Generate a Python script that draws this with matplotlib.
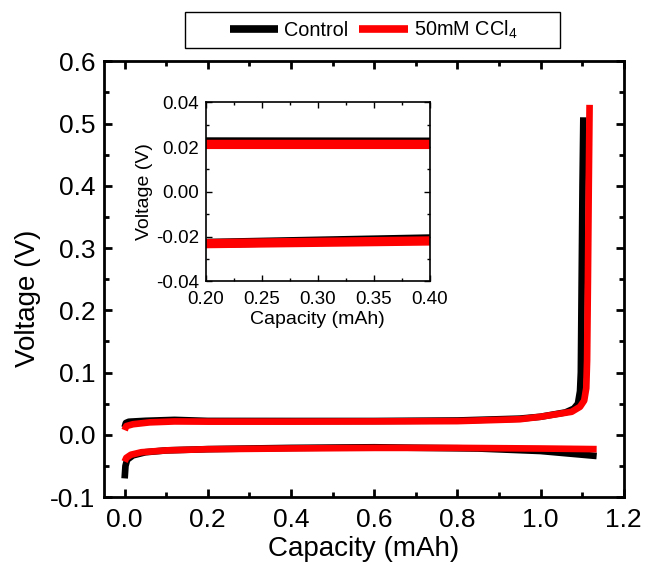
import numpy as np
import matplotlib
matplotlib.use("Agg")
import matplotlib.pyplot as plt
from matplotlib.patches import Rectangle
from matplotlib.ticker import MultipleLocator

plt.rcParams['font.family'] = ['Liberation Sans', 'DejaVu Sans']
plt.rcParams['mathtext.default'] = 'regular'

# charge branch (upper curve)
ctrl_chg_x = [0.0, 0.003, 0.01, 0.05, 0.12, 0.2, 0.4, 0.6, 0.8, 0.95, 1.0, 1.06,
              1.08, 1.09, 1.095, 1.097, 1.099, 1.101, 1.103]
ctrl_chg_y = [0.012, 0.019, 0.021, 0.0225, 0.024, 0.0223, 0.0222, 0.0222, 0.023, 0.026,
              0.029, 0.036, 0.042, 0.05, 0.07, 0.10, 0.25, 0.40, 0.51]
ccl4_chg_x = [0.0, 0.004, 0.02, 0.06, 0.12, 0.2, 0.4, 0.6, 0.8, 0.95, 1.0, 1.075,
              1.095, 1.105, 1.110, 1.112, 1.114, 1.116, 1.118]
ccl4_chg_y = [0.0075, 0.014, 0.017, 0.020, 0.0215, 0.0212, 0.0212, 0.0215, 0.022, 0.025,
              0.029, 0.037, 0.045, 0.055, 0.075, 0.12, 0.25, 0.40, 0.53]

# discharge branch (lower curve)
ctrl_dis_x = [0.0, 0.002, 0.006, 0.02, 0.05, 0.1, 0.2, 0.4, 0.6, 0.85, 1.0, 1.135]
ctrl_dis_y = [-0.070, -0.050, -0.040, -0.033, -0.028, -0.025, -0.023, -0.021, -0.020,
              -0.022, -0.026, -0.034]
ccl4_dis_x = [0.0, 0.004, 0.015, 0.04, 0.1, 0.2, 0.4, 0.6, 0.8, 1.0, 1.135]
ccl4_dis_y = [-0.043, -0.037, -0.032, -0.028, -0.025, -0.0231, -0.0219, -0.021, -0.021,
              -0.022, -0.023]

series = [
    ("Control", "black", ctrl_chg_x, ctrl_chg_y, ctrl_dis_x, ctrl_dis_y),
    ("50mM CCl$_4$", "red", ccl4_chg_x, ccl4_chg_y, ccl4_dis_x, ccl4_dis_y),
]

fig = plt.figure(figsize=(6.49, 5.78), dpi=100)
ax = fig.add_axes([0.160, 0.140, 0.801, 0.754])
inset = fig.add_axes([0.317, 0.513, 0.345, 0.310])

handles = []
for label, color, cx, cy, dx, dy in series:
    h, = ax.plot(cx, cy, color=color, lw=4.8, label=label, solid_capstyle='butt')
    ax.plot(dx, dy, color=color, lw=4.8, solid_capstyle='butt')
    inset.plot(cx, cy, color=color, lw=6.7)
    inset.plot(dx, dy, color=color, lw=6.7)
    handles.append(h)

ax.set_xlim(-0.05, 1.2)
ax.set_ylim(-0.1, 0.6)
ax.xaxis.set_minor_locator(MultipleLocator(0.1))
ax.yaxis.set_minor_locator(MultipleLocator(0.05))
ax.set_xticks(np.arange(0, 1.21, 0.2))
ax.set_xticklabels(['0.0', '0.2', '0.4', '0.6', '0.8', '1.0', '1.2'])
ax.set_yticks(np.arange(-0.1, 0.61, 0.1))
ax.set_yticklabels(['-0.1', '0.0', '0.1', '0.2', '0.3', '0.4', '0.5', '0.6'])
ax.tick_params(which='both', direction='in', top=True, right=True, width=2,
               labelsize=19)
ax.tick_params(axis='x', pad=8)
ax.tick_params(axis='y', pad=6)
ax.tick_params(which='major', length=6)
ax.tick_params(which='minor', length=3.5)
for sp in ax.spines.values():
    sp.set_linewidth(2)
ax.set_xlabel('Capacity (mAh)', fontsize=20, labelpad=3)
ax.set_ylabel('Voltage (V)', fontsize=20)
ax.yaxis.set_label_coords(-0.121, 0.456)

inset.set_xlim(0.2, 0.4)
inset.set_ylim(-0.04, 0.04)
inset.xaxis.set_minor_locator(MultipleLocator(0.025))
inset.yaxis.set_minor_locator(MultipleLocator(0.01))
inset.set_xticks([0.2, 0.25, 0.3, 0.35, 0.4])
inset.set_xticklabels(['0.20', '0.25', '0.30', '0.35', '0.40'])
inset.set_yticks([-0.04, -0.02, 0.0, 0.02, 0.04])
inset.set_yticklabels(['-0.04', '-0.02', '0.00', '0.02', '0.04'])
inset.tick_params(which='both', direction='in', top=True, right=True, width=1,
                  labelsize=13.5)
inset.tick_params(axis='x', pad=7)
inset.tick_params(axis='y', pad=5)
inset.tick_params(which='major', length=4)
inset.tick_params(which='minor', length=2.5)
for sp in inset.spines.values():
    sp.set_linewidth(1.2)
inset.set_xlabel('Capacity (mAh)', fontsize=14, labelpad=2)
inset.set_ylabel('Voltage (V)', fontsize=14, labelpad=2)

# legend sits in a wider box above the axes
fig.patches.append(Rectangle((0.285, 0.917), 0.578, 0.0623, transform=fig.transFigure,
                             facecolor='white', edgecolor='black', lw=1))
leg = fig.legend(handles=handles, loc='center', bbox_to_anchor=(0.5755, 0.948),
                 ncol=2, fontsize=14.3, frameon=False, handlelength=2.45,
                 handletextpad=0.3, columnspacing=0.55, borderpad=0.2)
for line in leg.get_lines():
    line.set_linewidth(5.5)

plt.savefig("out.png", dpi=100)
